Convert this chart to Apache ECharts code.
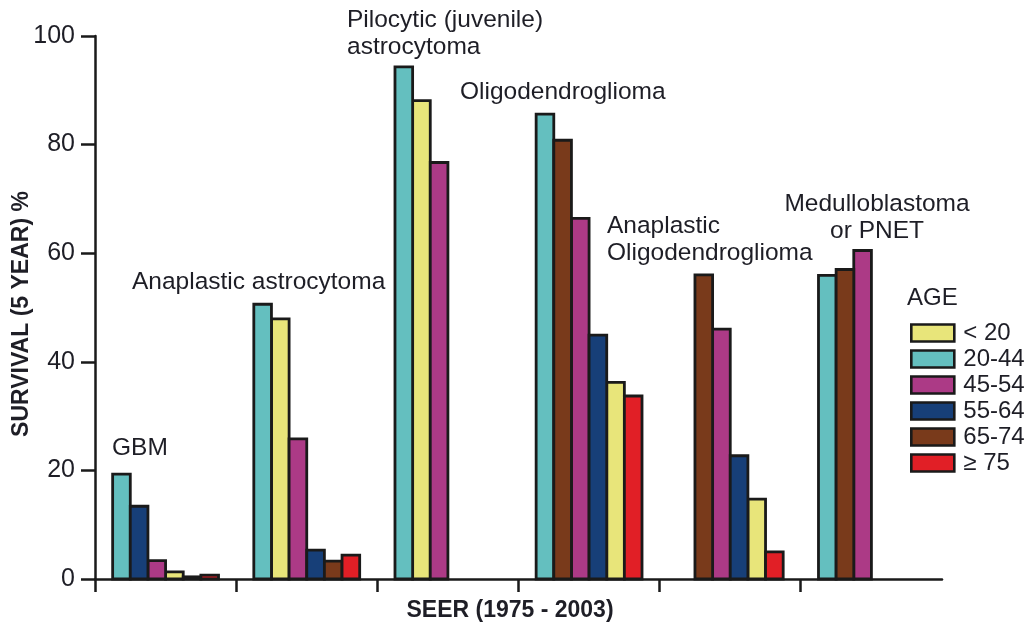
<!DOCTYPE html>
<html>
<head>
<meta charset="utf-8">
<script src="https://cdn.jsdelivr.net/npm/echarts@6/dist/echarts.min.js"></script>
<style>html,body{margin:0;padding:0;background:#fff;}#c{width:1032px;height:626px;}</style>
</head>
<body>
<div id="c"></div>
<script>
// ---- data ----
const ageGroups = ['< 20', '20-44', '45-54', '55-64', '65-74', '≥ 75'];
const ageColors = ['#E8E57A', '#64BFBF', '#AC3A86', '#173F78', '#793A1B', '#E11F26'];
const tumourGroups = ['GBM', 'Anaplastic astrocytoma', 'Pilocytic (juvenile) astrocytoma',
  'Oligodendroglioma', 'Anaplastic Oligodendroglioma', 'Medulloblastoma or PNET'];
// bar order inside each group (left to right), null = empty slot
const gbmAges = ['20-44', '55-64', '45-54', '< 20', '65-74', '≥ 75'];
const gbmValues = [19.3, 13.4, 3.4, 1.3, 0.4, 0.7];
const anaAstroAges = ['20-44', '< 20', '45-54', '55-64', '65-74', '≥ 75'];
const anaAstroValues = [50.6, 47.9, 25.8, 5.3, 3.3, 4.4];
const pilocyticAges = ['20-44', '< 20', '45-54'];
const pilocyticValues = [94.3, 88.1, 76.7];
const oligoAges = ['20-44', '65-74', '45-54', '55-64', '< 20', '≥ 75'];
const oligoValues = [85.6, 80.8, 66.4, 44.9, 36.2, 33.7];
const anaOligoAges = [null, '65-74', '45-54', '55-64', '< 20', '≥ 75'];
const anaOligoValues = [null, 56.0, 46.0, 22.7, 14.7, 5.0];
const medulloAges = ['20-44', '65-74', '45-54'];
const medulloValues = [55.9, 57.0, 60.5];
const yTicks = [0, 20, 40, 60, 80, 100];
const groupLabels = [
  {text: 'GBM', x: 112, y: 448, align: 'left'},
  {text: 'Anaplastic astrocytoma', x: 132, y: 282, align: 'left'},
  {text: 'Pilocytic (juvenile)\nastrocytoma', x: 347, y: 34, align: 'left'},
  {text: 'Oligodendroglioma', x: 460, y: 92, align: 'left'},
  {text: 'Anaplastic\nOligodendroglioma', x: 607, y: 240, align: 'left'},
  {text: 'Medulloblastoma\nor PNET', x: 877, y: 218, align: 'center'}
];

// ---- build ----
const SLOTS = 8;
const groupAges = [gbmAges, anaAstroAges, pilocyticAges, oligoAges, anaOligoAges, medulloAges];
const groupValues = [gbmValues, anaAstroValues, pilocyticValues, oligoValues, anaOligoValues, medulloValues];
const slotCats = [];
tumourGroups.forEach((g, gi) => { for (let s = 0; s < SLOTS; s++) slotCats.push(gi + '-' + s); });
const FONT = "'Liberation Sans', Arial, sans-serif";
const TXT = '#1e1e26';
const EDGE = '#1a1a1a';
const LW = 2.8;

const series = ageGroups.map((age, ai) => {
  const data = [];
  groupAges.forEach((ages, gi) => {
    ages.forEach((a, k) => {
      if (a === age) data.push([gi * SLOTS + k + 1, groupValues[gi][k]]);
    });
  });
  return {
    name: age, type: 'custom', data: data,
    xAxisIndex: 0, yAxisIndex: 0,
    encode: {x: 0, y: 1},
    itemStyle: {color: ageColors[ai], borderColor: EDGE, borderWidth: LW},
    renderItem: function (params, api) {
      const idx = api.value(0);
      const v = api.value(1);
      const base = api.coord([idx, 0]);
      const top = api.coord([idx, v]);
      const bw = api.size([1, 0])[0];
      return {
        type: 'rect',
        shape: {x: base[0] - bw / 2, y: top[1], width: bw, height: base[1] - top[1]},
        style: {fill: ageColors[ai], stroke: EDGE, lineWidth: LW}
      };
    }
  };
});

const chart = echarts.init(document.getElementById('c'), null, {renderer: 'canvas'});
chart.setOption({
  animation: false,
  backgroundColor: '#ffffff',
  textStyle: {fontFamily: FONT},
  grid: [
    {left: 95, right: 90, top: 36, bottom: 47},
    {left: 95, right: 232, top: 36, bottom: 47}
  ],
  legend: {
    orient: 'vertical', left: 910, top: 321, padding: 0,
    itemWidth: 43, itemHeight: 17, itemGap: 2,
    data: ageGroups.map(a => ({name: a, icon: 'rect'})),
    textStyle: {fontSize: 24, color: TXT, fontFamily: FONT, padding: [0, 0, 0, 4]},
    itemStyle: {borderColor: EDGE, borderWidth: 2.6},
    selectedMode: false
  },
  xAxis: [
    {type: 'category', gridIndex: 0, data: slotCats,
      axisLine: {lineStyle: {color: EDGE, width: 2.5}},
      axisTick: {show: false}, axisLabel: {show: false}},
    {type: 'category', gridIndex: 1, data: tumourGroups.slice(0, 5),
      axisLine: {show: false},
      axisTick: {show: true, interval: 0, length: 13, lineStyle: {color: EDGE, width: 2.5}},
      axisLabel: {show: false, interval: 0}}
  ],
  yAxis: [
    {type: 'value', gridIndex: 0, min: yTicks[0], max: yTicks[yTicks.length - 1], interval: 20,
      axisLine: {show: true, lineStyle: {color: EDGE, width: 2.5}},
      axisTick: {show: true, length: 14, lineStyle: {color: EDGE, width: 2.5}},
      axisLabel: {fontSize: 25, color: TXT, margin: 20, fontFamily: FONT},
      splitLine: {show: false}},
    {type: 'value', gridIndex: 1, min: 0, max: 100, show: false}
  ],
  series: series,
  graphic: groupLabels.map(l => ({
    type: 'text', x: l.x, y: l.y,
    style: {text: l.text, fontSize: 24.5, fill: TXT, fontFamily: FONT, textAlign: l.align,
      textVerticalAlign: 'middle', lineHeight: 27}
  })).concat([
    {type: 'text', x: 907, y: 298,
      style: {text: 'AGE', fontSize: 24, fill: TXT, fontFamily: FONT, textVerticalAlign: 'middle'}},
    {type: 'text', x: 22, y: 314, rotation: Math.PI / 2,
      style: {text: 'SURVIVAL (5 YEAR) %', fontSize: 23, fontWeight: 'bold', fill: TXT, fontFamily: FONT,
        textAlign: 'center', textVerticalAlign: 'middle'}},
    {type: 'text', x: 510, y: 611,
      style: {text: 'SEER (1975 - 2003)', fontSize: 23, fontWeight: 'bold', fill: TXT, fontFamily: FONT,
        textAlign: 'center', textVerticalAlign: 'middle'}}
  ])
});
</script>
</body>
</html>
